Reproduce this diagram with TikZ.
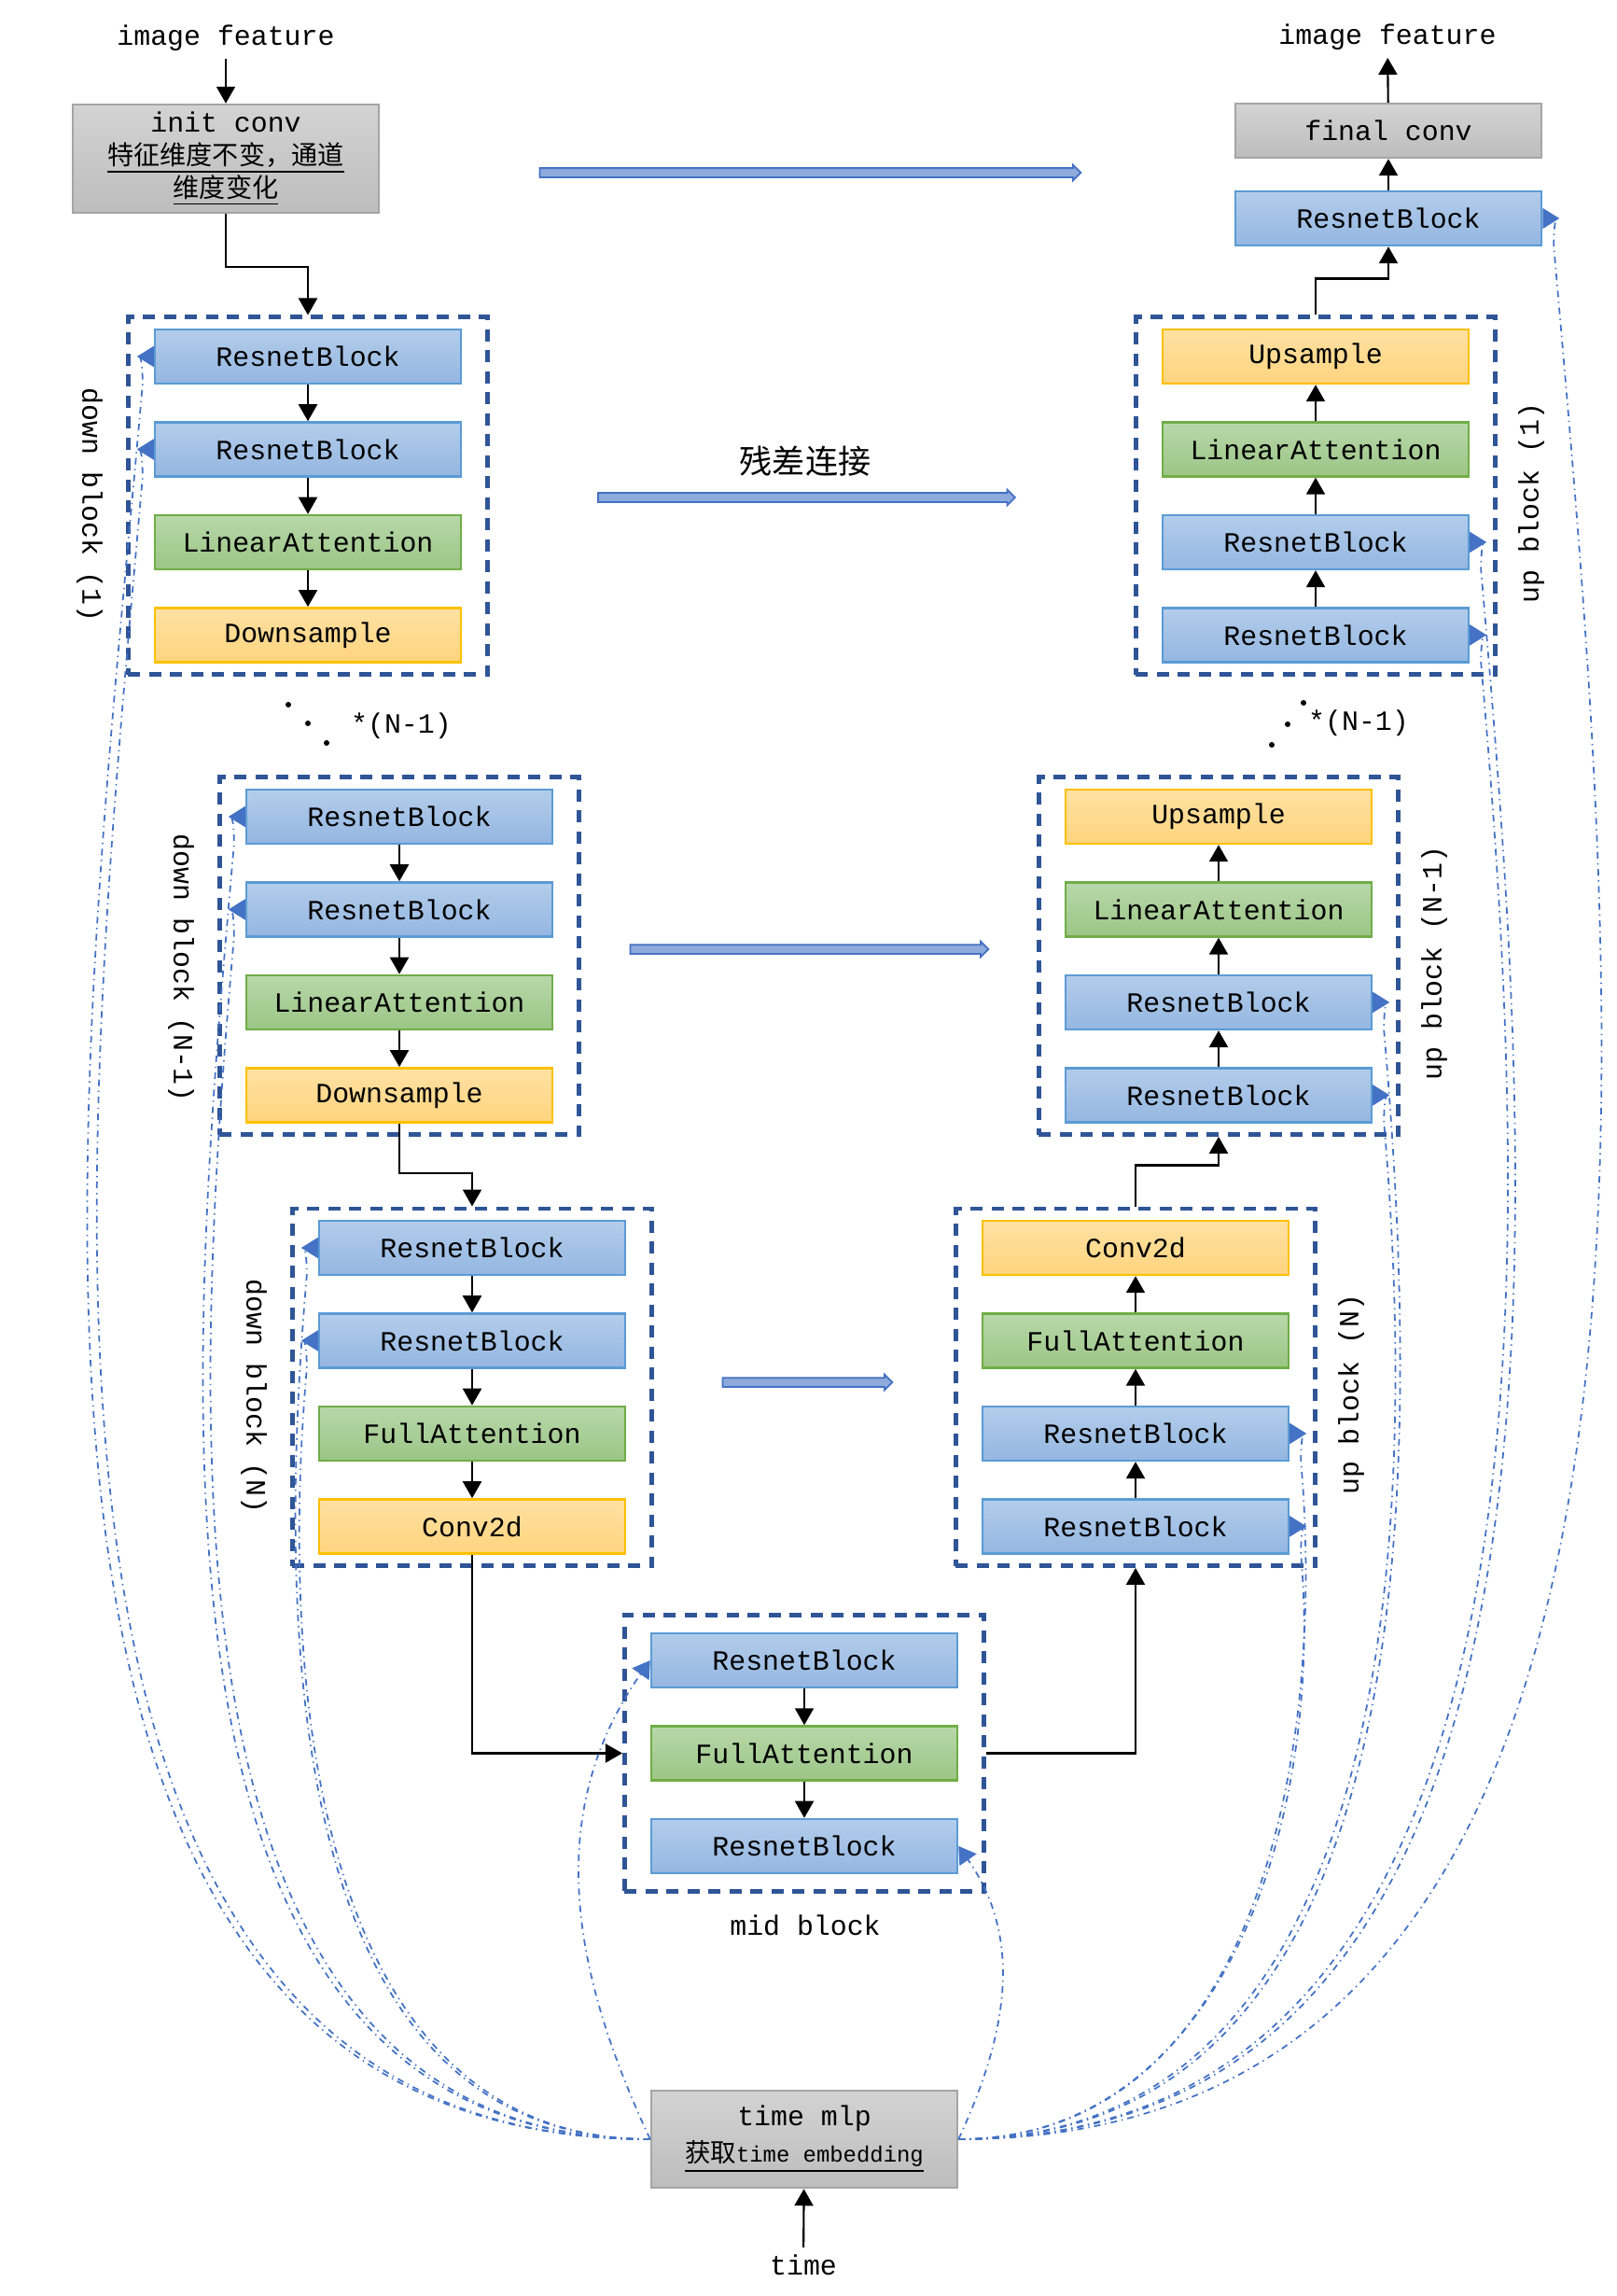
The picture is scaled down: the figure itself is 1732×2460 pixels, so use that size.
\documentclass[tikz,border=0pt]{standalone}
\usepackage{fontspec}
\setmainfont{Liberation Mono}
\newfontfamily\cjk{Noto Sans CJK SC}
\usetikzlibrary{arrows.meta,positioning,calc,fit,shapes.arrows}
\definecolor{rbline}{HTML}{5B9BD5}
\definecolor{rbtop}{HTML}{B3CDEB}
\definecolor{rbbot}{HTML}{94B6E1}
\definecolor{attline}{HTML}{70AD47}
\definecolor{atttop}{HTML}{B8D8AA}
\definecolor{attbot}{HTML}{9BC585}
\definecolor{smpline}{HTML}{FFC000}
\definecolor{smptop}{HTML}{FFE1A3}
\definecolor{smpbot}{HTML}{FFD47E}
\definecolor{gline}{HTML}{A5A5A5}
\definecolor{gtop}{HTML}{D3D3D3}
\definecolor{gbot}{HTML}{BDBDBD}
\definecolor{frameblue}{HTML}{2F5597}
\definecolor{embblue}{HTML}{4472C4}
\definecolor{resfill}{HTML}{8FAADC}
\newcommand{\cjkline}[1]{{\cjk\fontsize{8}{10}\selectfont\underline{#1}}}
\newcommand{\tmsub}{\underline{{\cjk\fontsize{7.8}{10}\selectfont 获取}{\fontsize{6.8}{10}\selectfont time embedding}}}
\tikzset{
  box/.style={minimum width=32.8mm, minimum height=5.8mm, inner sep=0pt, line width=0.7pt, font=\fontsize{8.5}{10}\selectfont},
  rb/.style={box, draw=rbline, top color=rbtop, bottom color=rbbot},
  att/.style={box, draw=attline, top color=atttop, bottom color=attbot},
  smp/.style={box, draw=smpline, top color=smptop, bottom color=smpbot},
  gbox/.style={box, draw=gline, top color=gtop, bottom color=gbot, align=center},
  frame/.style={draw=frameblue, line width=1.3pt, dash pattern=on 1.3mm off 0.95mm, inner xsep=2.75mm, inner ysep=1.2mm},
  lbl/.style={font=\fontsize{8.5}{10}\selectfont, inner sep=2pt},
  res/.style={single arrow, draw=embblue, fill=resfill, line width=0.5pt, minimum width=1.5mm, single arrow head extend=0.35mm, inner sep=0.4mm},
  emb/.style={draw=embblue, line width=0.5pt, dash pattern=on 2pt off 1.4pt on 0.4pt off 1.4pt},
  embout/.style={emb, -{Triangle[length=1.8mm,width=2.2mm,reversed]}},
  embin/.style={emb, -{Triangle[length=1.8mm,width=2.2mm]}}
}
\begin{document}
\begin{tikzpicture}[x=0.1mm, y=-0.1mm, line width=0.6pt, >={Triangle[length=1.8mm,width=2mm]}, node distance=3.9mm]
\useasboundingbox (0,0) rectangle (1732,2460);
%entree
\node[lbl] (imgin) at (242,41) {image feature};
\node[gbox, minimum height=11.6mm] (init) at (242,170) {init conv\\\cjkline{特征维度不变，通道}\\\cjkline{维度变化}};
\draw[->] (imgin) -- (init);
%down block (1)
\node[rb] (d1a) at (330,382) {ResnetBlock};
\node[rb, below=of d1a] (d1b) {ResnetBlock};
\node[att, below=of d1b] (d1c) {LinearAttention};
\node[smp, below=of d1c] (d1d) {Downsample};
\node[frame, fit=(d1a)(d1d)] (d1) {};
\node[lbl, rotate=-90] (d1lbl) at ($(d1.west)+(-39,10)$) {down block (1)};
\draw[->] (init.south) -- ++(0,57) -| (d1.north);
\draw[->] (d1a) -- (d1b);
\draw[->] (d1b) -- (d1c);
\draw[->] (d1c) -- (d1d);
%down block (N-1)
\node[rb] (dma) at (428,875) {ResnetBlock};
\node[rb, below=of dma] (dmb) {ResnetBlock};
\node[att, below=of dmb] (dmc) {LinearAttention};
\node[smp, below=of dmc] (dmd) {Downsample};
\node[frame, fit=(dma)(dmd)] (dm) {};
\node[lbl, rotate=-90] (dmlbl) at ($(dm.west)+(-39,13)$) {down block (N-1)};
\draw[->] (dma) -- (dmb);
\draw[->] (dmb) -- (dmc);
\draw[->] (dmc) -- (dmd);
%down block (N)
\node[rb] (dna) at (506,1337) {ResnetBlock};
\node[rb, below=of dna] (dnb) {ResnetBlock};
\node[att, below=of dnb] (dnc) {FullAttention};
\node[smp, below=of dnc] (dnd) {Conv2d};
\node[frame, fit=(dna)(dnd)] (dn) {};
\node[lbl, rotate=-90] (dnlbl) at ($(dn.west)+(-39,10)$) {down block (N)};
\draw[->] (dmd.south) -- ++(0,53) -| (dn.north);
\draw[->] (dna) -- (dnb);
\draw[->] (dnb) -- (dnc);
\draw[->] (dnc) -- (dnd);
%mid block
\node[rb] (mida) at (862,1779) {ResnetBlock};
\node[att, below=of mida] (midb) {FullAttention};
\node[rb, below=of midb] (midc) {ResnetBlock};
\node[frame, inner ysep=1.85mm, fit=(mida)(midc)] (mid) {};
\node[lbl] (midlbl) at (863,2063) {mid block};
\draw[->] (dnd.south) |- (mid.west);
\draw[->] (mida) -- (midb);
\draw[->] (midb) -- (midc);
%up block (N)
\node[smp] (una) at (1217,1337) {Conv2d};
\node[att, below=of una] (unb) {FullAttention};
\node[rb, below=of unb] (unc) {ResnetBlock};
\node[rb, below=of unc] (und) {ResnetBlock};
\node[frame, fit=(una)(und)] (un) {};
\node[lbl, rotate=90] (unlbl) at ($(un.east)+(36,8)$) {up block (N)};
\draw[->] (mid.east) -| (un.south);
\draw[->] (und) -- (unc);
\draw[->] (unc) -- (unb);
\draw[->] (unb) -- (una);
%up block (N-1)
\node[smp] (uma) at (1306,875) {Upsample};
\node[att, below=of uma] (umb) {LinearAttention};
\node[rb, below=of umb] (umc) {ResnetBlock};
\node[rb, below=of umc] (umd) {ResnetBlock};
\node[frame, fit=(uma)(umd)] (um) {};
\node[lbl, rotate=90] (umlbl) at ($(um.east)+(36,8)$) {up block (N-1)};
\draw[->] (un.north) -- ++(0,-44) -| (um.south);
\draw[->] (umd) -- (umc);
\draw[->] (umc) -- (umb);
\draw[->] (umb) -- (uma);
%up block (1)
\node[smp] (u1a) at (1410,382) {Upsample};
\node[att, below=of u1a] (u1b) {LinearAttention};
\node[rb, below=of u1b] (u1c) {ResnetBlock};
\node[rb, below=of u1c] (u1d) {ResnetBlock};
\node[frame, fit=(u1a)(u1d)] (u1) {};
\node[lbl, rotate=90] (u1lbl) at ($(u1.east)+(36,8)$) {up block (1)};
\draw[->] (u1d) -- (u1c);
\draw[->] (u1c) -- (u1b);
\draw[->] (u1b) -- (u1a);
%sortie
\node[rb] (rbtop) at (1488,234) {ResnetBlock};
\node[gbox] (finalc) at (1488,140) {final conv};
\node[lbl] (imgout) at (1487,40) {image feature};
\draw[->] (u1.north) -- ++(0,-39) -| (rbtop.south);
\draw[->] (rbtop) -- (finalc);
\draw[->] (finalc) -- (imgout);
%... *(N-1)
\foreach \p in {(309,755),(330,775),(350,796),(1397,753),(1380,776),(1363,798)}
  \fill \p circle (0.3mm);
\node[lbl] (repl) at (430,778) {*(N-1)};
\node[lbl] (repr) at (1456,775) {*(N-1)};
%residuel
\node[res, minimum height=58mm] (res1) at (866,185) {};
\node[font=\cjk\fontsize{10}{12}\selectfont] (restxt) at (863,494) {残差连接};
\node[res, minimum height=44.7mm] (res2) at (862,533) {};
\node[res, minimum height=38.4mm] (res3) at (865,1017) {};
\node[res, minimum height=18.2mm] (res4) at (863,1481) {};
%time
\node[gbox, minimum height=10.4mm] (tm) at (862,2292) {time mlp\\[1pt]\tmsub};
\node[lbl] (timelbl) at (861,2427) {time};
\draw[->] (timelbl) -- (tm);
%time embedding
\draw[embout] (tm.west) to[out=180,in=-95] ($(d1a.west)+(-12,30)$) to[out=90,in=180] (d1a.west);
\draw[embout] (tm.west) to[out=180,in=-95] ($(d1b.west)+(-12,30)$) to[out=90,in=180] (d1b.west);
\draw[embout] (tm.west) to[out=180,in=-95] ($(dma.west)+(-12,30)$) to[out=90,in=180] (dma.west);
\draw[embout] (tm.west) to[out=180,in=-95] ($(dmb.west)+(-12,30)$) to[out=90,in=180] (dmb.west);
\draw[embout] (tm.west) to[out=180,in=-95] ($(dna.west)+(-12,30)$) to[out=90,in=180] (dna.west);
\draw[embout] (tm.west) to[out=180,in=-95] ($(dnb.west)+(-12,30)$) to[out=90,in=180] (dnb.west);
\draw[embin] (tm.west) to[out=115,in=-125] (mida.west);
\draw[embin] (tm.east) to[out=65,in=-55] (midc.east);
\draw[embout] (tm.east) to[out=0,in=-85] ($(unc.east)+(12,30)$) to[out=90,in=0] (unc.east);
\draw[embout] (tm.east) to[out=0,in=-85] ($(und.east)+(12,30)$) to[out=90,in=0] (und.east);
\draw[embout] (tm.east) to[out=0,in=-85] ($(umc.east)+(12,30)$) to[out=90,in=0] (umc.east);
\draw[embout] (tm.east) to[out=0,in=-85] ($(umd.east)+(12,30)$) to[out=90,in=0] (umd.east);
\draw[embout] (tm.east) to[out=0,in=-85] ($(u1c.east)+(12,30)$) to[out=90,in=0] (u1c.east);
\draw[embout] (tm.east) to[out=0,in=-85] ($(u1d.east)+(12,30)$) to[out=90,in=0] (u1d.east);
\draw[embout] (tm.east) to[out=0,in=-85] ($(rbtop.east)+(12,30)$) to[out=90,in=0] (rbtop.east);
\end{tikzpicture}
\end{document}
